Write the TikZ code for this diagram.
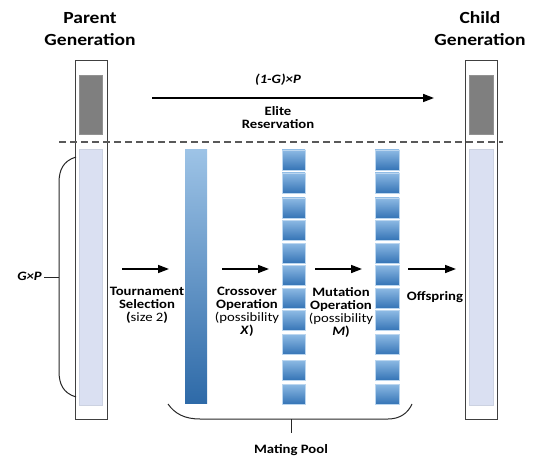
\documentclass[tikz,border=0pt]{standalone}
\usepackage{fontspec}
\setmainfont[FakeStretch=1.15]{Carlito}
\usetikzlibrary{arrows.meta}
\definecolor{boxline}{HTML}{404040}
\definecolor{lightfill}{HTML}{DAE0F2}
\definecolor{darkfill}{HTML}{7F7F7F}
\definecolor{bluetop}{HTML}{9DC3E6}
\definecolor{bluebot}{HTML}{2E6AA8}
\definecolor{sqtop}{HTML}{8DBAE4}
\definecolor{sqbot}{HTML}{3574B6}
\tikzset{
  genbox/.style={draw=boxline, line width=0.8pt, fill=white},
  lightcell/.style={fill=lightfill, draw=lightfill!85!gray, line width=0.4pt},
  darkcell/.style={fill=darkfill, draw=darkfill!85!white, line width=0.4pt},
  bigbar/.style={top color=bluetop, bottom color=bluebot, draw=none},
  sqcell/.style={top color=sqtop, bottom color=sqbot, draw=sqtop!60!white, line width=0.4pt},
  flow/.style={line width=1.6pt, -{Triangle[length=11pt,width=8pt]}},
  lbl/.style={font=\fontsize{12.8}{13}\selectfont\bfseries, align=center, inner sep=0pt},
  head/.style={font=\fontsize{17}{22}\selectfont\bfseries, align=center, inner sep=0pt},
  brace/.style={line width=1pt, draw=black!85},
}
\begin{document}
\begin{tikzpicture}[x=1pt,y=-1pt]
\useasboundingbox (0,0) rectangle (535,457);
% headers
\node[head] (ph) at (90,29) {Parent\\Generation};
\node[head] (ch) at (480,29) {Child\\Generation};
% generation boxes
\draw[genbox] (75,60) rectangle (107,419);
\draw[genbox] (465,60) rectangle (497,419);
\node[darkcell, minimum width=23pt, minimum height=59pt, inner sep=0pt] (pd) at (90.5,104.5) {};
\node[darkcell, minimum width=24pt, minimum height=59pt, inner sep=0pt] (cd) at (481,104.5) {};
\node[lightcell, minimum width=23pt, minimum height=256pt, inner sep=0pt] (pl) at (90.5,277) {};
\node[lightcell, minimum width=24pt, minimum height=256pt, inner sep=0pt] (cl) at (481,277) {};
% dashed separator
\coordinate (dl) at (59,142);
\coordinate (dr) at (503,142);
\draw[dashed, dash pattern=on 7pt off 4pt, line width=1.1pt, draw=black!65] (dl) -- (dr);
% elite reservation arrow
\coordinate (ea) at (152,98);
\coordinate (eb) at (434,98);
\draw[flow] (ea) -- (eb);
\node[lbl, font=\fontsize{12.8}{13}\selectfont\bfseries\itshape] (gp1) at (278,80) {(1-G)×P};
\node[lbl] (elite) at (278,118) {Elite\\Reservation};
% big gradient bar
\node[bigbar, minimum width=22pt, minimum height=253pt, inner sep=0pt] (bar) at (196,276.5) {};
% square columns
\foreach \yy [count=\i] in {160,183,208,230,253,275,298,320.5,344.5,370,394}{
  \node[sqcell, minimum width=23pt, minimum height=20pt, inner sep=0pt] (a\i) at (293.5,\yy) {};
  \node[sqcell, minimum width=24pt, minimum height=20pt, inner sep=0pt] (b\i) at (387,\yy) {};
}
% left brace
\draw[brace] (76,157) .. controls (63,161) and (59,170) .. (59,183) -- (59,371) .. controls (59,384) and (63,393) .. (76,397);
\coordinate (lt) at (59,277);
\coordinate (lte) at (44,277);
\draw[brace] (lt) -- (lte);
\node[lbl, font=\fontsize{12.8}{13}\selectfont\bfseries\itshape, anchor=east] (gp) at (42,276) {G×P};
% bottom brace
\draw[brace] (168,404) .. controls (175,414) and (185,419) .. (200,419) -- (388,419) .. controls (400,419) and (408,413) .. (412,404);
\coordinate (bt) at (291,419);
\coordinate (bte) at (291,433);
\draw[brace] (bt) -- (bte);
\node[lbl] (mp) at (291,450) {Mating Pool};
% flow arrows
\coordinate (t1) at (122,269); \coordinate (t2) at (169,269);
\coordinate (c1) at (222,269); \coordinate (c2) at (269,269);
\coordinate (m1) at (315,269); \coordinate (m2) at (362,269);
\coordinate (o1) at (408,269); \coordinate (o2) at (456,269);
\draw[flow] (t1) -- (t2);
\draw[flow] (c1) -- (c2);
\draw[flow] (m1) -- (m2);
\draw[flow] (o1) -- (o2);
% labels
\node[lbl] (ts) at (147,305) {Tournament\\Selection\\(\mdseries size 2\bfseries)};
\node[lbl] (co) at (247,312) {Crossover\\Operation\\{\mdseries(possibility}\\\textit{X})};
\node[lbl] (mo) at (341,312) {Mutation\\Operation\\{\mdseries(possibility}\\\textit{M})};
\node[lbl] (of) at (435,297) {Offspring};
\end{tikzpicture}
\end{document}
